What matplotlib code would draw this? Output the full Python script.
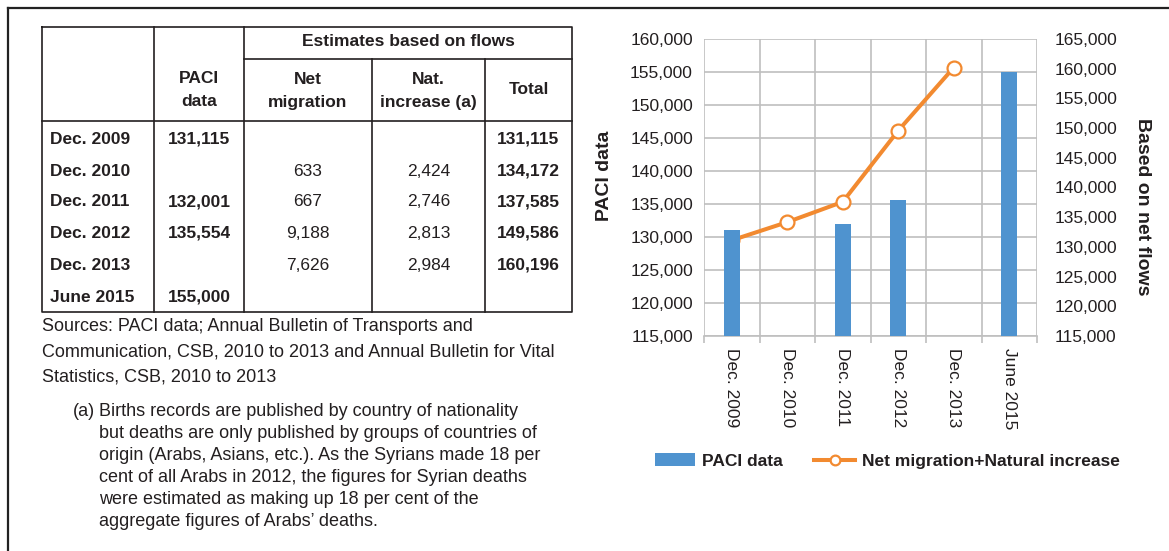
import matplotlib
matplotlib.use("Agg")
import matplotlib.pyplot as plt
import numpy as np
from matplotlib.lines import Line2D
from matplotlib.patches import Patch

plt.rcParams['font.family'] = ['Liberation Sans', 'DejaVu Sans']

# ---- data ----
periods = ['Dec. 2009', 'Dec. 2010', 'Dec. 2011', 'Dec. 2012', 'Dec. 2013', 'June 2015']
paci = [131115, None, 132001, 135554, None, 155000]
net_migration = [None, 633, 667, 9188, 7626, None]
nat_increase = [None, 2424, 2746, 2813, 2984, None]
total = [131115, 134172, 137585, 149586, 160196, None]

sources = ("Sources: PACI data; Annual Bulletin of Transports and\n"
           "Communication, CSB, 2010 to 2013 and Annual Bulletin for Vital\n"
           "Statistics, CSB, 2010 to 2013")
footnote = ("Births records are published by country of nationality\n"
            "but deaths are only published by groups of countries of\n"
            "origin (Arabs, Asians, etc.). As the Syrians made 18 per\n"
            "cent of all Arabs in 2012, the figures for Syrian deaths\n"
            "were estimated as making up 18 per cent of the\n"
            "aggregate figures of Arabs\u2019 deaths.")

W, H = 1169, 551
txt = '#231f20'
blue = '#4f93cf'
orange = '#f28a30'
grid_c = '#bfbfbf'
fs = 12.5

fig = plt.figure(figsize=(W / 100, H / 100), dpi=100)

# background layer in pixel coordinates for frame + table
bg = fig.add_axes([0, 0, 1, 1])
bg.set_xlim(0, W)
bg.set_ylim(H, 0)
bg.axis('off')

# outer frame (left + top)
bg.plot([8, 8], [8, H], color='#222222', lw=1.6)
bg.plot([8, W], [8, 8], color='#222222', lw=1.6)

# ---- table ----
tl, tr, tt, tb = 42, 572, 27, 312
cols = [154, 244, 372, 485]
lw_t = 1.2
bg.plot([tl, tr, tr, tl, tl], [tt, tt, tb, tb, tt], color=txt, lw=lw_t)
bg.plot([cols[0]] * 2, [tt, tb], color=txt, lw=lw_t)
bg.plot([cols[1]] * 2, [tt, tb], color=txt, lw=lw_t)
bg.plot([cols[2]] * 2, [59, tb], color=txt, lw=lw_t)
bg.plot([cols[3]] * 2, [59, tb], color=txt, lw=lw_t)
bg.plot([cols[1], tr], [59, 59], color=txt, lw=lw_t)
bg.plot([tl, tr], [121, 121], color=txt, lw=lw_t)

centers = [(cols[0] + cols[1]) / 2, (cols[1] + cols[2]) / 2,
           (cols[2] + cols[3]) / 2, (cols[3] + tr) / 2]
bg.text((cols[1] + tr) / 2, 42, 'Estimates based on flows', ha='center', va='center',
        fontsize=fs, fontweight='bold', color=txt)
bg.text(centers[0], 90, 'PACI\ndata', ha='center', va='center', fontsize=fs,
        fontweight='bold', color=txt, linespacing=1.6)
bg.text(centers[1], 91, 'Net\nmigration', ha='center', va='center', fontsize=fs,
        fontweight='bold', color=txt, linespacing=1.6)
bg.text(centers[2], 91, 'Nat.\nincrease (a)', ha='center', va='center', fontsize=fs,
        fontweight='bold', color=txt, linespacing=1.6)
bg.text(centers[3], 90, 'Total', ha='center', va='center', fontsize=fs,
        fontweight='bold', color=txt)

row_y = [139, 171, 202, 233, 265, 297]
fmt = lambda v: '' if v is None else f'{v:,}'
for i, y in enumerate(row_y):
    bg.text(50, y, periods[i], ha='left', va='center', fontsize=fs, fontweight='bold', color=txt)
    bg.text(centers[0], y, fmt(paci[i]), ha='center', va='center', fontsize=fs, fontweight='bold', color=txt)
    bg.text(centers[1], y, fmt(net_migration[i]), ha='center', va='center', fontsize=fs, color=txt)
    bg.text(centers[2], y, fmt(nat_increase[i]), ha='center', va='center', fontsize=fs, color=txt)
    bg.text(centers[3], y, fmt(total[i]), ha='center', va='center', fontsize=fs, fontweight='bold', color=txt)

bg.text(42, 318, sources, ha='left', va='top', fontsize=13, color=txt, linespacing=1.62)
bg.text(73, 403, '(a)', ha='left', va='top', fontsize=13, color=txt)
bg.text(99, 403, footnote, ha='left', va='top', fontsize=13, color=txt, linespacing=1.39)

# ---- chart ----
x0, x1, y0, y1 = 704, 1037, 39, 336
ax = fig.add_axes([x0 / W, (H - y1) / H, (x1 - x0) / W, (y1 - y0) / H])
ax2 = ax.twinx()   # line, right scale
ax3 = ax.twinx()   # bars, drawn over the line, left scale

x = np.arange(len(periods))
bar_vals = np.array([np.nan if v is None else v for v in paci], dtype=float)
ax3.bar(x, bar_vals, width=0.28, color=blue)
ax.set_ylim(115000, 160000)
ax3.set_ylim(115000, 160000)
ax3.axis('off')
ax.set_yticks(np.arange(115000, 160001, 5000))
ax.set_xlim(-0.5, len(periods) - 0.5)

ax.set_xticks(np.arange(-0.5, len(periods), 1))
ax.set_xticklabels([])
ax.set_xticks(x, minor=True)
ax.set_xticklabels(periods, minor=True, rotation=-90, fontsize=fs, color=txt)
ax.tick_params(axis='x', which='major', length=5, width=1.2, color=grid_c, direction='out')
ax.tick_params(axis='x', which='minor', length=0, pad=9)
ax.tick_params(axis='y', length=0, pad=8, labelsize=fs, labelcolor=txt)
ax.yaxis.set_major_formatter(matplotlib.ticker.StrMethodFormatter('{x:,.0f}'))
ax.grid(axis='both', which='major', color=grid_c, lw=1.2, zorder=0)
ax.set_axisbelow(True)
for s in ['top', 'left', 'right']:
    ax.spines[s].set_visible(False)
ax.spines['bottom'].set_color(grid_c)
ax.spines['bottom'].set_linewidth(1.2)

line_x = [i for i, v in enumerate(total) if v is not None]
line_y = [v for v in total if v is not None]
ax2.plot(line_x, line_y, color=orange, lw=2.9, marker='o', markersize=10,
         markerfacecolor='white', markeredgecolor=orange, markeredgewidth=1.6)
ax2.set_ylim(115000, 165000)
ax2.set_yticks(np.arange(115000, 165001, 5000))
ax2.yaxis.set_major_formatter(matplotlib.ticker.StrMethodFormatter('{x:,.0f}'))
ax2.tick_params(axis='y', length=0, pad=13, labelsize=fs, labelcolor=txt)
for s in ['top', 'left', 'right', 'bottom']:
    ax2.spines[s].set_visible(False)

ax.set_ylabel('PACI data', fontsize=14, fontweight='bold', color=txt)
ax.yaxis.set_label_coords((613 - x0) / (x1 - x0), (y1 - 176) / (y1 - y0))
ax2.set_ylabel('Based on net flows', fontsize=14, fontweight='bold', color=txt,
               rotation=-90, va='center')
ax2.yaxis.set_label_coords((1142 - x0) / (x1 - x0), (y1 - 207) / (y1 - y0))

handles = [Patch(facecolor=blue, edgecolor='none'),
           Line2D([0], [0], color=orange, lw=2.9, marker='o', markersize=7,
                  markerfacecolor='white', markeredgecolor=orange, markeredgewidth=1.6)]
leg = fig.legend(handles, ['PACI data', 'Net migration+Natural increase'], ncol=2,
                 loc='center', bbox_to_anchor=(887 / W, (H - 461) / H), frameon=False,
                 handlelength=2.35, handletextpad=0.36, columnspacing=1.85,
                 prop={'size': fs, 'weight': 'bold'})
for t in leg.get_texts():
    t.set_color(txt)

fig.savefig('out.png', dpi=100)
